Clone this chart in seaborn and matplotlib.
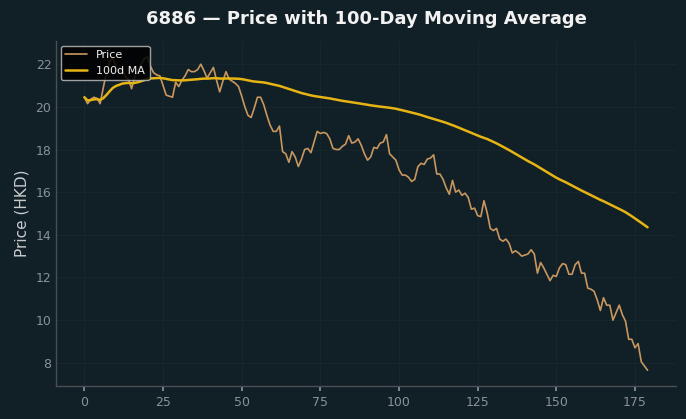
import numpy as np
import pandas as pd
import matplotlib
matplotlib.use("Agg")
import matplotlib.pyplot as plt
import seaborn as sns

# prezzi giornalieri (180 sedute)
price = [
    20.45, 20.15, 20.35, 20.45, 20.40, 20.15, 20.90, 21.60, 22.10, 22.30,
    21.90, 21.60, 21.80, 21.40, 21.30, 20.85, 21.40, 21.70, 22.00, 22.25,
    22.35, 21.90, 21.60, 21.50, 21.45, 21.00, 20.55, 20.50, 20.45, 21.15,
    20.95, 21.25, 21.45, 21.75, 21.65, 21.65, 21.75, 22.00, 21.70, 21.35,
    21.60, 21.85, 21.25, 20.70, 21.20, 21.65, 21.30, 21.20, 21.10, 20.95,
    20.50, 20.00, 19.60, 19.50, 19.95, 20.45, 20.45, 20.10, 19.60, 19.15,
    18.85, 18.85, 19.10, 17.90, 17.80, 17.40, 17.90, 17.65, 17.20, 17.55,
    18.00, 18.05, 17.85, 18.35, 18.85, 18.75, 18.80, 18.75, 18.50, 18.05,
    18.00, 18.00, 18.15, 18.25, 18.65, 18.30, 18.35, 18.50, 18.20, 17.80,
    17.50, 17.65, 18.10, 18.05, 18.30, 18.35, 18.70, 17.80, 17.65, 17.50,
    17.05, 16.80, 16.80, 16.70, 16.50, 16.60, 17.20, 17.35, 17.30, 17.55,
    17.60, 17.75, 16.85, 16.85, 16.60, 16.20, 15.90, 16.55, 16.00, 16.10,
    15.85, 15.95, 15.75, 15.20, 15.25, 14.90, 14.85, 15.60, 15.05, 14.30,
    14.20, 14.30, 13.80, 13.70, 13.80, 13.60, 13.15, 13.25, 13.15, 13.00,
    13.05, 13.10, 13.30, 13.10, 12.20, 12.70, 12.45, 12.15, 11.85, 12.10,
    12.05, 12.45, 12.65, 12.60, 12.15, 12.15, 12.60, 12.75, 12.20, 12.20,
    11.50, 11.45, 11.35, 10.95, 10.45, 11.05, 10.70, 10.70, 10.00, 10.35,
    10.70, 10.25, 9.95, 9.10, 9.10, 8.70, 8.90, 8.05, 7.85, 7.65,
]
ticker = "6886"
window = 100

df = pd.DataFrame({"Day": np.arange(len(price)), "Price": price})
# media mobile a 100 giorni (min_periods=1 come nel grafico originale)
df["MA"] = df["Price"].rolling(window, min_periods=1).mean()

bg = "#111f26"
sns.set_theme(style="darkgrid", rc={
    "figure.facecolor": bg,
    "axes.facecolor": bg,
    "axes.edgecolor": "#4a4f52",
    "grid.color": "#16262c",
    "grid.linewidth": 0.8,
    "xtick.color": "#8a9296",
    "ytick.color": "#8a9296",
    "axes.labelcolor": "#c8cccd",
    "text.color": "#f0f0f0",
    "xtick.bottom": True,
    "ytick.left": True,
    "xtick.major.size": 3.5,
    "ytick.major.size": 0,
})
plt.rcParams["font.family"] = ["DejaVu Sans"]

fig, ax = plt.subplots(figsize=(6.86, 4.19), dpi=100)

sns.lineplot(data=df, x="Day", y="Price", ax=ax, color="#c8975f",
             linewidth=1.2, label="Price")
sns.lineplot(data=df, x="Day", y="MA", ax=ax, color="#e6b514",
             linewidth=1.8, label=f"{window}d MA")

ax.set_title(f"{ticker} — Price with {window}-Day Moving Average",
             fontsize=13, fontweight="bold", color="#f2f2f2", pad=12)
ax.set_xlabel("")
ax.set_ylabel("Price (HKD)", fontsize=11)
ax.set_xticks(range(0, 176, 25))
ax.tick_params(axis="both", labelsize=9)

for side in ["top", "right"]:
    ax.spines[side].set_visible(False)
for side in ["left", "bottom"]:
    ax.spines[side].set_visible(True)
    ax.spines[side].set_linewidth(1)

leg = ax.legend(loc="upper left", fontsize=8, facecolor="black",
                edgecolor="#bbbbbb", framealpha=0.85,
                borderaxespad=0.4)
for t in leg.get_texts():
    t.set_color("#f0f0f0")

fig.subplots_adjust(left=0.082, right=0.985, top=0.902, bottom=0.079)
plt.savefig("out.png", dpi=100, facecolor=bg)
